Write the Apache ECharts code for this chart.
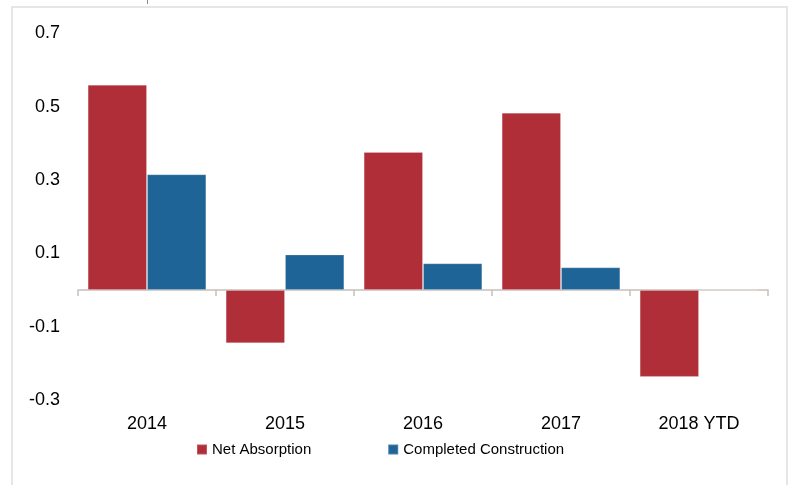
<!DOCTYPE html>
<html>
<head>
<meta charset="utf-8">
<script src="https://cdn.jsdelivr.net/npm/echarts@6/dist/echarts.min.js"></script>
<style>
html,body{margin:0;padding:0;background:#fff;}
#chart{width:793px;height:485px;}
</style>
</head>
<body>
<div id="chart"></div>
<script>
const categories = ['2014', '2015', '2016', '2017', '2018 YTD'];
const netAbsorption = [0.56, -0.145, 0.377, 0.484, -0.237];
const completedConstruction = [0.316, 0.097, 0.073, 0.062, 0];
const seriesNames = ['Net Absorption', 'Completed Construction'];

const FONT = 'Liberation Sans, Arial, sans-serif';
const chart = echarts.init(document.getElementById('chart'), null, {renderer: 'canvas'});
chart.setOption({
  backgroundColor: '#ffffff',
  animation: false,
  textStyle: {fontFamily: FONT},
  graphic: [
    {type: 'rect', shape: {x: 12, y: 7, width: 775, height: 490}, style: {fill: 'none', stroke: '#e6e6e6', lineWidth: 2}, silent: true},
    {type: 'line', shape: {x1: 147.5, y1: 0, x2: 147.5, y2: 4}, style: {stroke: '#888', lineWidth: 1}, silent: true}
  ],
  legend: {
    data: seriesNames,
    left: 191,
    top: 437,
    itemWidth: 10,
    itemHeight: 10,
    itemGap: 76,
    icon: 'rect',
    textStyle: {fontSize: 15, color: '#000', fontFamily: FONT}
  },
  grid: {left: 78, right: 25, top: 33.5, bottom: 85, containLabel: false},
  xAxis: [
    {
      type: 'category',
      data: categories,
      position: 'bottom',
      axisLine: {show: true, onZero: true, lineStyle: {color: '#c8c0ba', width: 1.5}},
      axisTick: {show: true, length: 6, interval: 0, lineStyle: {color: '#c8c0ba', width: 1.5}},
      axisLabel: {show: false},
      splitLine: {show: false}
    },
    {
      type: 'category',
      data: categories,
      position: 'bottom',
      axisLine: {show: false, onZero: false},
      axisTick: {show: false},
      axisLabel: {show: true, margin: 15, fontSize: 18, color: '#000', fontFamily: FONT},
      splitLine: {show: false}
    }
  ],
  yAxis: {
    type: 'value',
    min: -0.3,
    max: 0.7,
    interval: 0.2,
    axisLine: {show: false},
    axisTick: {show: false},
    splitLine: {show: false},
    axisLabel: {
      margin: 18,
      fontSize: 18,
      color: '#000',
      fontFamily: FONT,
      formatter: v => (Math.round(v * 10) / 10).toFixed(1)
    }
  },
  series: [
    {
      name: seriesNames[0],
      type: 'bar',
      xAxisIndex: 0,
      data: netAbsorption,
      barGap: '0%',
      barCategoryGap: '14%',
      itemStyle: {color: '#af2e38', borderColor: 'rgba(255,255,255,0.2)', borderWidth: 1}
    },
    {
      name: seriesNames[1],
      type: 'bar',
      xAxisIndex: 0,
      data: completedConstruction,
      barGap: '0%',
      barCategoryGap: '14%',
      itemStyle: {color: '#1f6496', borderColor: 'rgba(255,255,255,0.2)', borderWidth: 1}
    }
  ]
});
</script>
</body>
</html>
